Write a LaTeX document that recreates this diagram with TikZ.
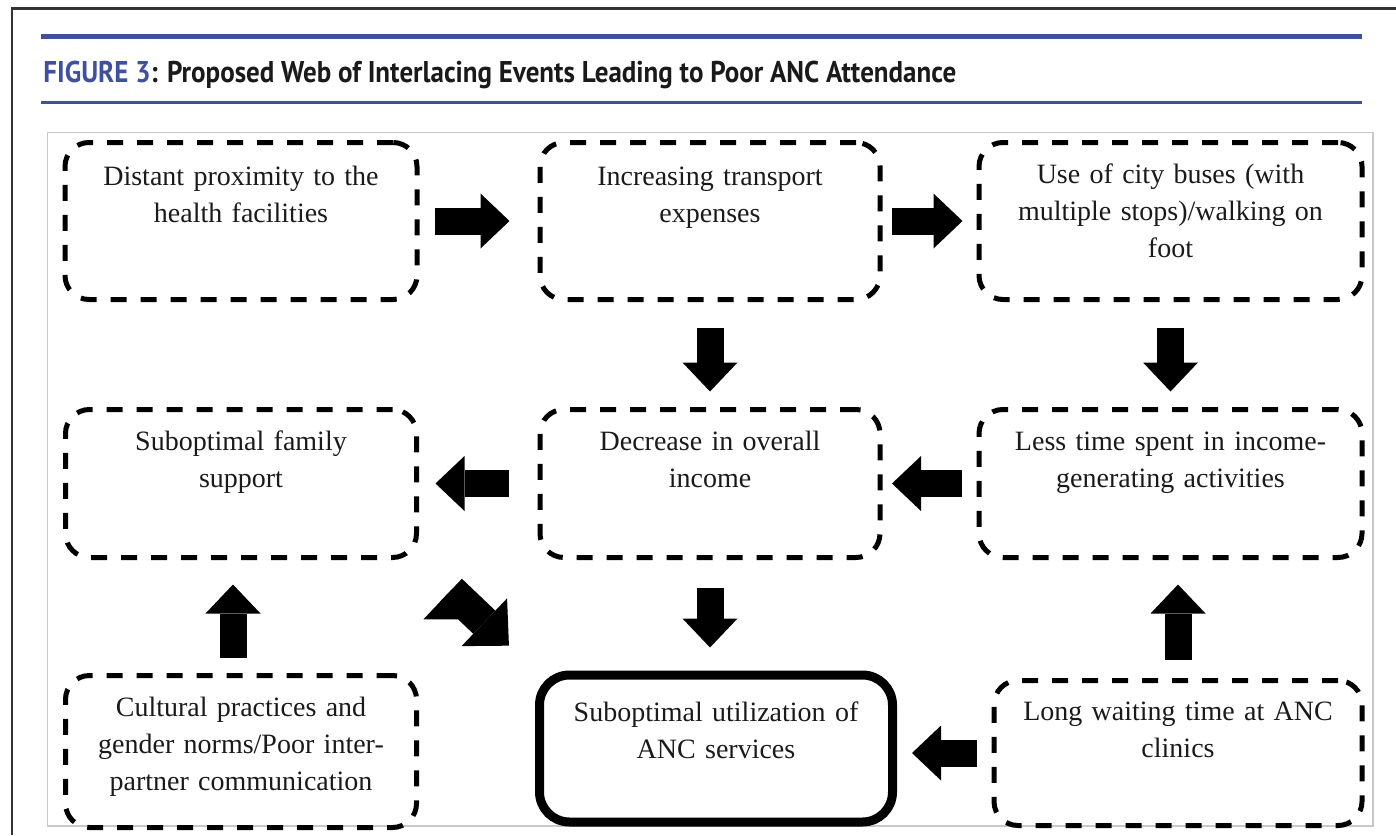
\documentclass[tikz,border=0pt]{standalone}
\usepackage{fontspec}
\setmainfont{Liberation Serif}
\newfontfamily\headfont[FakeStretch=0.9]{PT Sans}
\usetikzlibrary{arrows.meta, positioning, calc}

\definecolor{figblue}{RGB}{62,80,158}
\definecolor{framegray}{RGB}{51,51,51}
\definecolor{panelgray}{RGB}{200,200,200}
\definecolor{inkblack}{RGB}{26,26,26}

\tikzset{
	factor/.style={draw=black, text=inkblack, line width=2.5pt, dash pattern=on 8pt off 7pt,
		rounded corners=12pt, align=center, text width=160pt, inner xsep=2pt, inner ysep=2pt,
		text height=0pt, text depth=34pt, minimum width=176pt, minimum height=78.5pt,
		font=\fontsize{14pt}{18.5pt}\selectfont},
	outcome/.style={factor, solid, line width=4.5pt, rounded corners=15pt},
	push/.style={draw=black, line width=13.5pt, -{Triangle[width=27.5pt,length=14.5pt,line width=0pt]}},
	slant/.style={line width=16pt, -{Triangle[width=33pt,length=17pt,line width=0pt]}}
}

\begin{document}
\begin{tikzpicture}[x=0.5pt, y=-0.5pt]
	\useasboundingbox (0,0) rectangle (1396,835);
	\draw[framegray, line width=1.25pt] (12,835) -- (12,8.5) -- (1396,8.5);
	\draw[figblue, line width=2.5pt] (41,36) -- (1362,36);
	\draw[figblue, line width=1.5pt] (41,102.5) -- (1362,102.5);
	\node[anchor=base west, inner sep=0pt, text=inkblack, font=\headfont\bfseries\fontsize{15pt}{18pt}\selectfont] (caption) at (43,82)
		{\textcolor{figblue}{FIGURE 3}: Proposed Web of Interlacing Events Leading to Poor ANC Attendance};
	\draw[panelgray, line width=0.6pt] (47.5,132.5) rectangle (1373,826);

	\node[factor, text depth=36pt] (dist) at (241,221) {Distant proximity to the\\ health facilities};
	\node[factor, text depth=36pt, minimum width=170pt] (cost) [right=59pt of dist] {Increasing transport\\ expenses};
	\node[factor, text depth=38pt, minimum width=191.5pt, text width=185pt] (bus) [right=47pt of cost] {Use of city buses (with\\ multiple stops)/walking on\\ foot};
	\node[factor, text depth=33.5pt, minimum width=175.5pt, minimum height=74pt] (family) [below=52.5pt of dist] {Suboptimal family\\ support};
	\node[factor, text depth=33.5pt, minimum width=170pt, minimum height=74pt] (income) [below=52.5pt of cost] {Decrease in overall\\ income};
	\node[factor, text depth=33.5pt, minimum width=191.5pt, minimum height=74pt] (time) [below=52.5pt of bus] {Less time spent in income-\\ generating activities};
	\node[factor, text depth=35.5pt, minimum width=175.5pt, minimum height=76pt] (culture) [below=56.5pt of family] {Cultural practices and\\ gender norms/Poor inter-\\ partner communication};
	\node[outcome, text depth=27.5pt, minimum width=176.5pt, minimum height=73.5pt] (use) [below=55.25pt of income, xshift=3pt] {Suboptimal utilization of\\ ANC services};
	\node[factor, text depth=33pt, minimum width=184pt, minimum height=72.5pt] (wait) [below=59pt of time, xshift=3.75pt] {Long waiting time at ANC\\ clinics};

	\path[push]
		(dist) edge[shorten <=7.5pt, shorten >=14pt] (cost)
		(cost) edge[shorten <=4.5pt, shorten >=7pt] (bus)
		(cost) edge[shorten <=12.75pt, shorten >=7.75pt] (income)
		(bus) edge[shorten <=12.75pt, shorten >=7.75pt] (time)
		(income) edge[shorten <=14.25pt, shorten >=8.25pt] (family)
		(time) edge[shorten <=7.25pt, shorten >=4.75pt] (income)
		(income.south) edge[shorten <=13.75pt, shorten >=11.5pt] (income.south |- use.north)
		([xshift=-4pt]culture.north) edge[shorten <=7.75pt, shorten >=12.25pt] ([xshift=-4pt]family.south)
		(wait.north) edge[shorten <=9.25pt, shorten >=12.25pt] (wait.north |- time.south)
		(wait.west) edge[shorten <=7.25pt, shorten >=7.5pt] (wait.west -| use.east)
		($(family.south east)!22pt!(use.north west)$) edge[slant] ($(use.north west)!18pt!(family.south east)$);
\end{tikzpicture}
\end{document}
